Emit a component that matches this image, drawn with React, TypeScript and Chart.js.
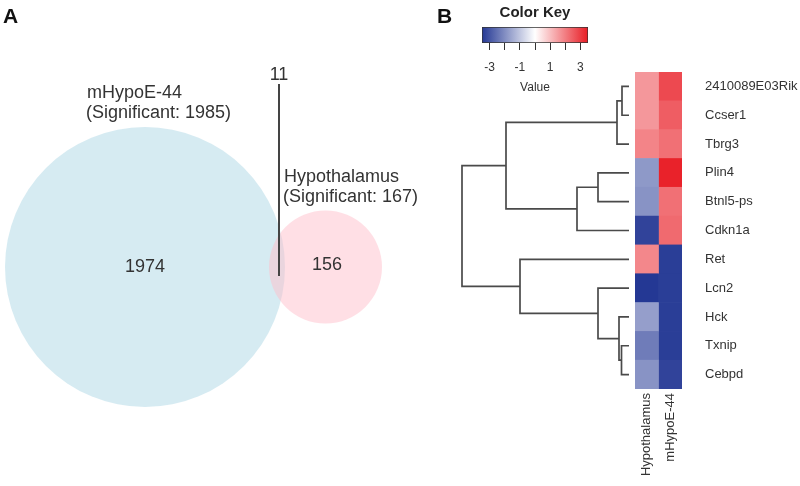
import React, { useEffect, useRef } from "react";
import { Chart, registerables } from "chart.js";

Chart.register(...registerables);

// ---------------- DATA ----------------
const genes = ["2410089E03Rik", "Ccser1", "Tbrg3", "Plin4", "Btnl5-ps", "Cdkn1a", "Ret", "Lcn2", "Hck", "Txnip", "Cebpd"];
const columns = ["Hypothalamus", "mHypoE-44"];
const hypothalamusZ = [1.6, 1.6, 1.9, -1.8, -1.9, -3.3, 1.85, -3.5, -1.7, -2.3, -1.9];
const mhypoeZ = [2.8, 2.5, 2.2, 3.4, 2.2, 2.3, -3.4, -3.4, -3.4, -3.4, -3.3];

const keyMin = -3.5;
const keyMax = 3.5;
const keyTickMarks = [-3, -2, -1, 0, 1, 2, 3];
const keyTickLabels = [-3, -1, 1, 3];

// dendrogram merges (leaves 0..10 are rows; merged nodes get ids 11, 12, ...)
const mergeLeft = [0, 9, 11, 8, 3, 7, 15, 6, 13, 19];
const mergeRight = [1, 10, 2, 12, 4, 14, 5, 16, 17, 18];
const mergeHeight = [7, 7.5, 12, 10, 31, 31, 52, 109, 123, 167];

const vennSets = ["mHypoE-44", "Hypothalamus"];
const vennTotals = [1985, 167];
const vennUnique = [1974, 156];
const vennOverlap = 11;

// ---------------- LAYOUT / STYLE ----------------
const FONT = "'Liberation Sans', Arial, sans-serif";
const TEXT = "#333333";
const vennCircles = [
  { x: 145, y: 267, r: 140, color: "rgba(173,216,230,0.5)" },
  { x: 325.5, y: 267, r: 56.5, color: "rgba(255,192,203,0.5)" },
];
const vennLabelPos = [
  { x: 87, y: 93 },
  { x: 284, y: 177 },
];
const vennCountPos = [
  { x: 145, y: 267 },
  { x: 327, y: 265 },
];
const overlapLabelPos = { x: 279, y: 75 };
const overlapLine = { x: 279, y1: 84, y2: 276 };

const blue = [36, 56, 148];
const white = [255, 255, 255];
const red = [232, 28, 36];

function zColor(v: number): string {
  const t = Math.max(-1, Math.min(1, v / keyMax));
  const from = white;
  const to = t < 0 ? blue : red;
  const a = Math.abs(t);
  const c = from.map((f, i) => Math.round(f + (to[i] - f) * a));
  return `rgb(${c[0]},${c[1]},${c[2]})`;
}

function VennChart() {
  const ref = useRef<HTMLCanvasElement>(null);
  useEffect(() => {
    const textPlugin = {
      id: "vennText",
      afterDatasetsDraw(chart: any) {
        const { ctx } = chart;
        const sx = chart.scales.x;
        const sy = chart.scales.y;
        const X = (v: number) => sx.getPixelForValue(v);
        const Y = (v: number) => sy.getPixelForValue(v);
        ctx.save();
        // panel letters
        ctx.fillStyle = "#111";
        ctx.font = `bold 21px ${FONT}`;
        ctx.textBaseline = "alphabetic";
        ctx.textAlign = "left";
        ctx.fillText("A", X(3), Y(23));
        ctx.fillText("B", X(437), Y(23));
        // set labels
        ctx.fillStyle = TEXT;
        ctx.font = `18px ${FONT}`;
        ctx.textBaseline = "middle";
        vennSets.forEach((name, i) => {
          const p = vennLabelPos[i];
          ctx.fillText(name, X(p.x), Y(p.y));
          ctx.fillText(`(Significant: ${vennTotals[i]})`, X(p.x - 1), Y(p.y + 20));
        });
        ctx.textAlign = "center";
        vennUnique.forEach((n, i) => {
          const p = vennCountPos[i];
          ctx.fillText(String(n), X(p.x), Y(p.y));
        });
        ctx.fillText(String(vennOverlap), X(overlapLabelPos.x), Y(overlapLabelPos.y));
        ctx.strokeStyle = "#444";
        ctx.lineWidth = 2;
        ctx.beginPath();
        ctx.moveTo(X(overlapLine.x), Y(overlapLine.y1));
        ctx.lineTo(X(overlapLine.x), Y(overlapLine.y2));
        ctx.stroke();
        ctx.restore();
      },
    };
    const chart = new Chart(ref.current!, {
      type: "bubble",
      data: {
        datasets: [
          {
            data: vennCircles.map((c) => ({ x: c.x, y: c.y, r: c.r })),
            backgroundColor: vennCircles.map((c) => c.color),
            borderWidth: 0,
            clip: false,
          } as any,
        ],
      },
      options: {
        responsive: false,
        animation: false,
        events: [],
        layout: { padding: 0, autoPadding: false },
        plugins: { legend: { display: false }, tooltip: { enabled: false } },
        scales: {
          x: { type: "linear", min: 0, max: 455, display: false },
          y: { type: "linear", min: 0, max: 486, reverse: true, display: false },
        },
      },
      plugins: [textPlugin],
    });
    return () => chart.destroy();
  }, []);
  return <canvas ref={ref} width={455} height={486} style={{ position: "absolute", left: 0, top: 0 }} />;
}

function ColorKey() {
  const ref = useRef<HTMLCanvasElement>(null);
  useEffect(() => {
    const chart = new Chart(ref.current!, {
      type: "bar",
      data: {
        labels: ["key"],
        datasets: [
          {
            data: [[keyMin, keyMax]] as any,
            backgroundColor: (c: any) => {
              const area = c.chart.chartArea;
              if (!area) return zColor(0);
              const g = c.chart.ctx.createLinearGradient(area.left, 0, area.right, 0);
              g.addColorStop(0, zColor(keyMin));
              g.addColorStop(0.5, zColor(0));
              g.addColorStop(1, zColor(keyMax));
              return g;
            },
            borderColor: "#333",
            borderWidth: 1,
            borderSkipped: false,
            barPercentage: 1,
            categoryPercentage: 1,
          } as any,
        ],
      },
      options: {
        indexAxis: "y",
        responsive: false,
        animation: false,
        events: [],
        layout: { padding: { left: 12, right: 12, top: 0, bottom: 0 } },
        plugins: {
          legend: { display: false },
          tooltip: { enabled: false },
          title: {
            display: true,
            text: "Color Key",
            color: "#222",
            font: { size: 15, weight: "bold", family: FONT },
            padding: { top: 4, bottom: 5 },
          },
        },
        scales: {
          y: { display: false },
          x: {
            type: "linear",
            min: keyMin,
            max: keyMax,
            afterBuildTicks: (s: any) => {
              s.ticks = keyTickMarks.map((v) => ({ value: v }));
            },
            grid: { display: true, drawOnChartArea: false, drawTicks: true, tickLength: 7, color: "#333", lineWidth: 1 },
            border: { display: false },
            ticks: {
              autoSkip: false,
              maxRotation: 0,
              padding: 10,
              color: TEXT,
              font: { size: 12, family: FONT },
              callback: (v: any) => (keyTickLabels.includes(Number(v)) ? String(v) : ""),
            },
            title: { display: true, text: "Value", color: TEXT, font: { size: 12, family: FONT }, padding: { top: 0, bottom: 5 } },
            afterFit: (s: any) => {
              s.height = 57;
              s.paddingLeft = 0;
              s.paddingRight = 0;
            },
          } as any,
        },
      },
    });
    return () => chart.destroy();
  }, []);
  return <canvas ref={ref} width={130} height={100} style={{ position: "absolute", left: 470, top: 0 }} />;
}

function Dendrogram() {
  const ref = useRef<HTMLCanvasElement>(null);
  useEffect(() => {
    const nodeY: number[] = genes.map((_, i) => i);
    const nodeH: number[] = genes.map(() => 0);
    const segs: { x: number; y: number }[][] = [];
    mergeHeight.forEach((h, k) => {
      const a = mergeLeft[k];
      const b = mergeRight[k];
      segs.push([
        { x: nodeH[a], y: nodeY[a] },
        { x: h, y: nodeY[a] },
        { x: h, y: nodeY[b] },
        { x: nodeH[b], y: nodeY[b] },
      ]);
      nodeY.push((nodeY[a] + nodeY[b]) / 2);
      nodeH.push(h);
    });
    const chart = new Chart(ref.current!, {
      type: "scatter",
      data: {
        datasets: segs.map((s) => ({
          data: s,
          showLine: true,
          borderColor: "#4a4a4a",
          borderWidth: 1.7,
          pointRadius: 0,
          fill: false,
          tension: 0,
        })),
      },
      options: {
        responsive: false,
        animation: false,
        events: [],
        layout: { padding: { left: 0, right: 6, top: 0, bottom: 0 } },
        plugins: { legend: { display: false }, tooltip: { enabled: false } },
        scales: {
          x: { type: "linear", min: 0, max: 174, reverse: true, display: false },
          y: { type: "linear", min: -0.5, max: genes.length - 0.5, reverse: true, display: false },
        },
      },
    });
    return () => chart.destroy();
  }, []);
  return <canvas ref={ref} width={180} height={317} style={{ position: "absolute", left: 455, top: 72 }} />;
}

function Heatmap() {
  const ref = useRef<HTMLCanvasElement>(null);
  useEffect(() => {
    const values = [hypothalamusZ, mhypoeZ];
    const chart = new Chart(ref.current!, {
      type: "bar",
      data: {
        labels: genes,
        datasets: columns.map((c, ci) => ({
          label: c,
          data: genes.map(() => 1),
          backgroundColor: values[ci].map(zColor),
          borderWidth: 0,
          barPercentage: 1,
          categoryPercentage: 1,
        })),
      },
      options: {
        indexAxis: "y",
        responsive: false,
        animation: false,
        events: [],
        layout: { padding: 0 },
        plugins: { legend: { display: false }, tooltip: { enabled: false } },
        scales: {
          x: {
            type: "linear",
            stacked: true,
            min: 0,
            max: columns.length,
            position: "bottom",
            grid: { display: false },
            border: { display: false },
            afterBuildTicks: (s: any) => {
              s.ticks = columns.map((_, i) => ({ value: i + 0.5 }));
            },
            ticks: {
              autoSkip: false,
              minRotation: 90,
              maxRotation: 90,
              padding: -4,
              color: TEXT,
              font: { size: 13, family: FONT },
              callback: (_v: any, i: number) => columns[i],
            },
            afterFit: (s: any) => {
              s.height = 97;
              s.paddingLeft = 0;
              s.paddingRight = 0;
            },
          } as any,
          y: {
            type: "category",
            stacked: true,
            position: "right",
            grid: { display: false },
            border: { display: false },
            ticks: { autoSkip: false, padding: 15, color: TEXT, font: { size: 13, family: FONT } },
            afterFit: (s: any) => {
              s.width = 118;
              s.paddingTop = 0;
              s.paddingBottom = 0;
            },
          } as any,
        },
      },
    });
    return () => chart.destroy();
  }, []);
  return <canvas ref={ref} width={165} height={414} style={{ position: "absolute", left: 635, top: 72 }} />;
}

export default function App() {
  return (
    <div style={{ position: "absolute", left: 0, top: 0, width: 800, height: 486, background: "#fff", overflow: "hidden" }}>
      <VennChart />
      <ColorKey />
      <Dendrogram />
      <Heatmap />
    </div>
  );
}
